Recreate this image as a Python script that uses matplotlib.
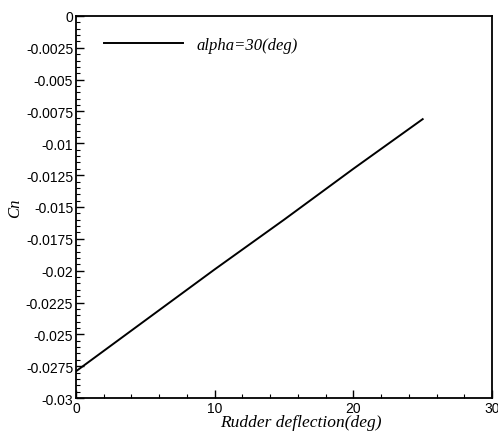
import numpy as np
import matplotlib
matplotlib.use("Agg")
import matplotlib.pyplot as plt
from matplotlib.ticker import MultipleLocator, FuncFormatter

# rudder deflection (deg) vs yawing moment coefficient Cn
deflection = [0, 5, 10, 15, 20, 25]
cn = [-0.0279, -0.0239, -0.0199, -0.0160, -0.0120, -0.0081]
series_label = "alpha=30(deg)"

fig = plt.figure(figsize=(4.98, 4.39), dpi=100)
ax = fig.add_axes([0.1526, 0.0911, 0.8354, 0.8702])

ax.plot(deflection, cn, color="black", lw=1.4, label=series_label)

ax.set_xlim(0, 30)
ax.set_ylim(-0.03, 0)
ax.xaxis.set_major_locator(MultipleLocator(10))
ax.xaxis.set_minor_locator(MultipleLocator(2))
ax.yaxis.set_major_locator(MultipleLocator(0.0025))
ax.yaxis.set_minor_locator(MultipleLocator(0.0005))

def fmt(v, pos):
    if abs(v) < 1e-12:
        return "0"
    return ("%.4f" % v).rstrip("0")

ax.yaxis.set_major_formatter(FuncFormatter(fmt))
ax.xaxis.set_major_formatter(FuncFormatter(lambda v, p: "%d" % v))

ax.tick_params(which="both", direction="in", top=False, right=False,
               labelsize=10, color="black", pad=2)
ax.tick_params(which="major", length=6, width=1.0)
ax.tick_params(which="minor", length=3, width=0.8)
for lab in ax.get_xticklabels() + ax.get_yticklabels():
    lab.set_family("Liberation Sans")
for s in ax.spines.values():
    s.set_linewidth(1.3)

ax.set_xlabel("Rudder deflection(deg)", family="Liberation Serif",
              style="italic", fontsize=12.5)
ax.set_ylabel("Cn", family="Liberation Serif", style="italic", fontsize=12)
ax.xaxis.set_label_coords(0.54, -0.042)
ax.yaxis.set_label_coords(-0.128, 0.5)

leg = ax.legend(loc="upper left", frameon=False, handlelength=4.75,
                handletextpad=0.8,
                prop={"family": "Liberation Serif", "style": "italic", "size": 12},
                bbox_to_anchor=(0.035, 0.98), borderaxespad=0.4)

fig.savefig("out.png", dpi=100)
